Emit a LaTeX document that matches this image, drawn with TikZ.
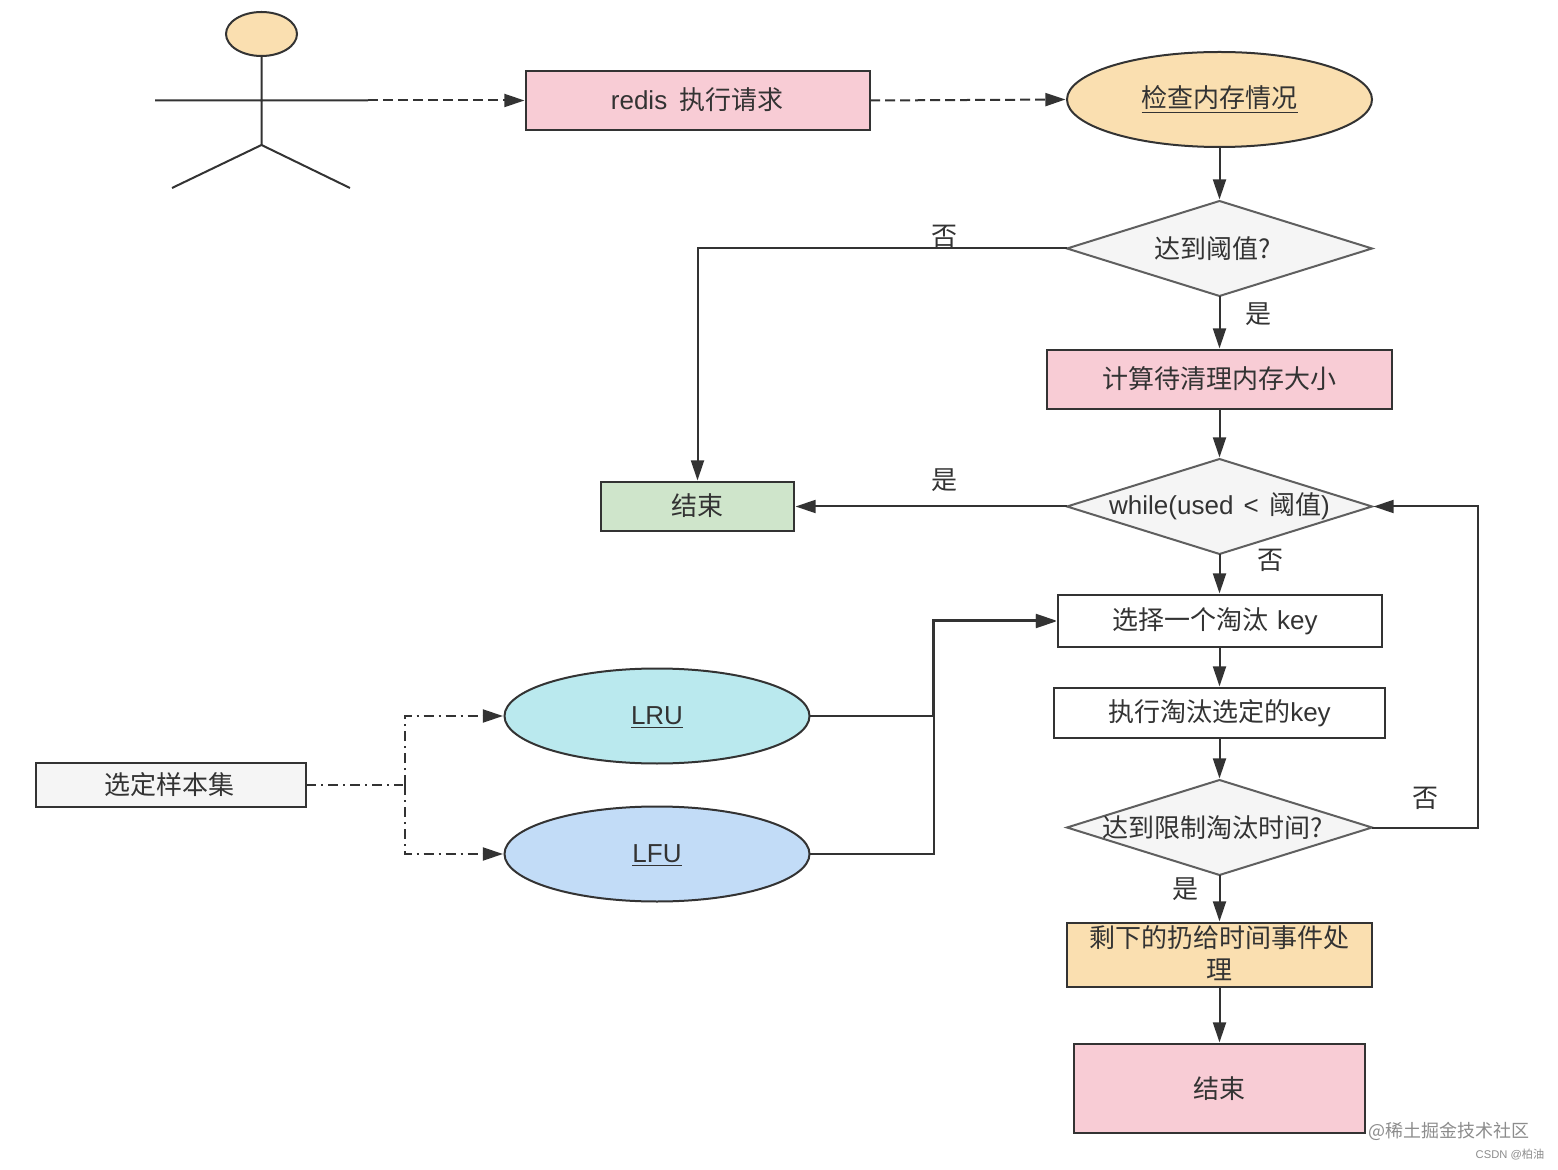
\documentclass[tikz,border=0pt]{standalone}
\usepackage{fontspec}
\setmainfont{Noto Sans CJK SC}
\newfontfamily\latfont{Liberation Sans}
\newcommand{\lat}[1]{{\latfont #1}}
\usetikzlibrary{arrows.meta, positioning, shapes.geometric}
\definecolor{inkc}{HTML}{333333}
\definecolor{edgec}{HTML}{5F5F5F}
\definecolor{pinkc}{HTML}{F8CCD5}
\definecolor{sandc}{HTML}{FADFB0}
\definecolor{leafc}{HTML}{CFE5CB}
\definecolor{cyanc}{HTML}{BAE9EE}
\definecolor{skyc}{HTML}{C2DCF7}
\definecolor{mistc}{HTML}{F5F5F5}
\tikzset{
    %Define standard arrow tip
    >={Triangle[length=10pt,width=6.5pt]},
}
\begin{document}
\begin{tikzpicture}[x=0.5pt, y=-0.5pt, line width=1pt, color=inkc,
        font=\fontsize{13}{16}\selectfont]
    \tikzset{
      wn/.style={draw=inkc, shape=rectangle, inner sep=0pt, outer sep=0pt, align=center},
      oval/.style={draw=inkc, shape=ellipse, inner sep=0pt, outer sep=0pt,
                   minimum width=152.5pt, minimum height=47.5pt},
      cond/.style={draw=edgec, shape=diamond, inner sep=0pt, outer sep=0pt, fill=mistc,
                   minimum width=152.5pt, minimum height=47.5pt},
      lbl/.style={inner sep=0pt},
      flow/.style={draw=inkc, ->, shorten >=0.8pt},
      dashline/.style={flow, dash pattern=on 5pt off 2.5pt},
      dotline/.style={draw=inkc, shorten >=0.8pt, dash pattern=on 5pt off 2.5pt on 1pt off 2.5pt},
      wmark/.style={inner sep=0pt, text=black!45},
      upabit/.style={text depth=2pt},
      downabit/.style={text height=10.4pt}
    }
    \useasboundingbox (0,0) rectangle (1558,1170);

    % right column
    \node [oval, fill=sandc] (check) at (1219.5,99.5) {\underline{检查内存情况}};
    \node [cond, below=27pt of check] (limit1) {\makebox[0pt]{达到阈值?\hspace{7pt}}};
    \node [wn, upabit, fill=pinkc, below=27pt of limit1, minimum width=172.5pt, minimum height=29.5pt] (calc) {计算待清理内存大小};
    \node [cond, below=25pt of calc] (loop) {\makebox[0pt]{\lat{while(used\hspace{1.5pt} <\hspace{1.5pt} }阈值\lat{)}}};
    \node [wn, below=20.5pt of loop, minimum width=162pt, minimum height=26pt] (pick) {选择一个淘汰\hspace{1.5pt} \lat{key}\hspace{4.5pt}};
    \node [wn, below=20.5pt of pick, minimum width=165.5pt, minimum height=25pt] (evict) {执行淘汰选定的\lat{key}};
    \node [cond, below=21pt of evict] (timeup) {\makebox[0pt]{达到限制淘汰时间?\hspace{7pt}}};
    \node [wn, fill=sandc, below=24pt of timeup, minimum width=152.5pt, minimum height=32pt] (rest) {剩下的扔给时间事件处\\理\rule[-2pt]{0pt}{2pt}};
    \node [wn, fill=pinkc, below=28.5pt of rest, minimum width=145.5pt, minimum height=44.5pt] (finish) {结束};

    % left of it
    \node [wn, upabit, fill=pinkc, left=98.5pt of check, yshift=-0.5pt, minimum width=172pt, minimum height=29.5pt] (redis) {\lat{redis}\hspace{3pt} 执行请求\hspace{1pt}};
    \node [wn, upabit, fill=leafc, left=136.5pt of loop, minimum width=96.5pt, minimum height=24.5pt] (stop) {结束};
    \node [oval, downabit, fill=cyanc] (lru) at (657,716) {\underline{\lat{LRU}}\hspace{1pt}};
    \node [oval, downabit, fill=skyc] (lfu) at (657,854) {\underline{\lat{LFU}}\hspace{1pt}};
    \node [wn, fill=mistc, minimum width=135pt, minimum height=22pt] (sample) at (171,785) {选定样本集\hspace{2pt}};

    % the person
    \node [draw=inkc, shape=ellipse, fill=sandc, inner sep=0pt, outer sep=0pt,
           minimum width=35.5pt, minimum height=22pt] (head) at (261.5,34) {};
    \coordinate (hip) at (261.5,145);
    \coordinate (armL) at (155,100.5);
    \coordinate (armR) at (368,100.5);
    \coordinate (legL) at (172,188);
    \coordinate (legR) at (350,188);
    \draw (head.south) -- (hip) (armL) -- (armR) (legL) -- (hip) -- (legR);

    \coordinate (backturn) at (1478,667);
    \coordinate (joinA) at (933,667);
    \coordinate (joinB) at (934,667);
    \coordinate (fork) at (404.5,785);

    \path (armR) edge[dashline] (redis.west)
          (redis.east) edge[dashline] (check.west);
    \path (check) edge[flow] (limit1)
          (limit1) edge[flow] (calc)
          (calc) edge[flow] (loop)
          (loop) edge[flow] (pick)
          (pick) edge[flow] (evict)
          (evict) edge[flow] (timeup)
          (timeup) edge[flow] (rest)
          (rest) edge[flow] (finish)
          (loop.west) edge[flow] (stop.east);
    \draw[flow] (limit1.west) -| (stop.north);
    \draw[flow] (timeup.east) -| (backturn) |- (loop.east);
    \draw[flow] (lru.east) -| (joinA) |- ([yshift=0.25pt]pick.west);
    \draw[flow] (lfu.east) -| (joinB) |- ([yshift=-0.25pt]pick.west);
    \draw[dotline] (sample.east) -- (fork);
    \draw[->,dotline] (fork) |- (lru.west);
    \draw[->,dotline] (fork) |- (lfu.west);

    \node [lbl] (no1) at (944,236) {否};
    \node [lbl] (yes1) at (1258,314) {是};
    \node [lbl] (yes2) at (944,480) {是};
    \node [lbl] (no2) at (1270,560) {否};
    \node [lbl] (no3) at (1425,798) {否};
    \node [lbl] (yes3) at (1185,889) {是};

    \node [wmark, font=\fontsize{9}{12}\selectfont] (mark1) at (1448.5,1131) {@稀土掘金技术社区};
    \node [wmark, font=\fontsize{5.6}{7}\selectfont] (mark2) at (1510,1155) {\lat{CSDN @}柏油};
\end{tikzpicture}
\end{document}
